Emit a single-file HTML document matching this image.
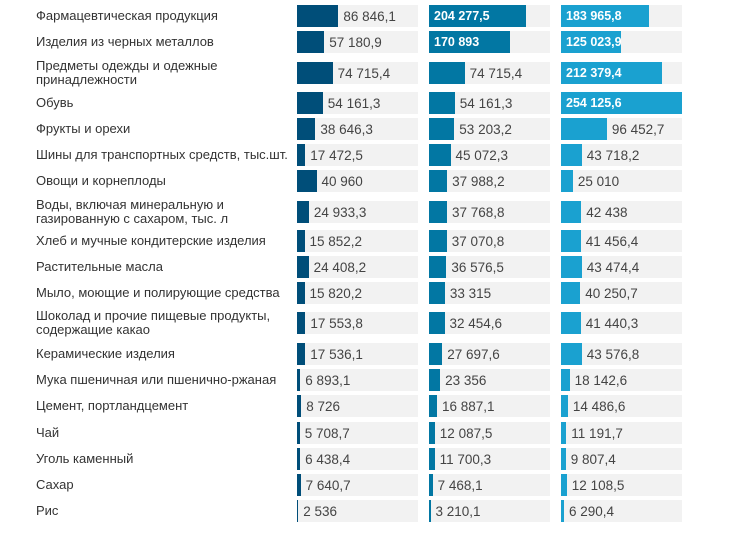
<!DOCTYPE html>
<html><head><meta charset="utf-8"><style>
body{margin:0;width:730px;height:539px;background:#fff;position:relative;overflow:hidden;font-family:"Liberation Sans",Arial,sans-serif;}
.r{position:absolute;left:0;width:730px;height:22px;}
.l{position:absolute;left:36px;top:-4px;height:30px;width:262px;display:flex;align-items:center;font-size:13px;line-height:14px;color:#333;}
.c{position:absolute;top:0;width:121px;height:22px;background:#f2f2f2;display:flex;align-items:center;font-size:13.5px;color:#444;white-space:nowrap;overflow:visible;}
.c i{display:block;height:22px;flex:none;}
.c span{margin-left:5px;}
.c.in span{position:absolute;left:5px;margin:0;color:#fff;font-weight:bold;font-size:12.5px;}
.a{left:297px}.a i{background:#004e79}
.b{left:429px}.b i{background:#0277a3}
.d{left:561px}.d i{background:#1aa1d0}
</style></head><body>
<div class="r" style="top:5px"><div class="l">Фармацевтическая продукция</div><div class="c a"><i style="width:41.4px"></i><span>86 846,1</span></div><div class="c b in"><i style="width:97.3px"></i><span>204 277,5</span></div><div class="c d in"><i style="width:87.6px"></i><span>183 965,8</span></div></div>
<div class="r" style="top:31px"><div class="l">Изделия из черных металлов</div><div class="c a"><i style="width:27.2px"></i><span>57 180,9</span></div><div class="c b in"><i style="width:81.4px"></i><span>170 893</span></div><div class="c d in"><i style="width:59.5px"></i><span>125 023,9</span></div></div>
<div class="r" style="top:62px"><div class="l">Предметы одежды и одежные принадлежности</div><div class="c a"><i style="width:35.6px"></i><span>74 715,4</span></div><div class="c b"><i style="width:35.6px"></i><span>74 715,4</span></div><div class="c d in"><i style="width:101.1px"></i><span>212 379,4</span></div></div>
<div class="r" style="top:92px"><div class="l">Обувь</div><div class="c a"><i style="width:25.8px"></i><span>54 161,3</span></div><div class="c b"><i style="width:25.8px"></i><span>54 161,3</span></div><div class="c d in"><i style="width:121px"></i><span>254 125,6</span></div></div>
<div class="r" style="top:118px"><div class="l">Фрукты и орехи</div><div class="c a"><i style="width:18.4px"></i><span>38 646,3</span></div><div class="c b"><i style="width:25.3px"></i><span>53 203,2</span></div><div class="c d"><i style="width:45.9px"></i><span>96 452,7</span></div></div>
<div class="r" style="top:144px"><div class="l">Шины для транспортных средств, тыс.шт.</div><div class="c a"><i style="width:8.3px"></i><span>17 472,5</span></div><div class="c b"><i style="width:21.5px"></i><span>45 072,3</span></div><div class="c d"><i style="width:20.8px"></i><span>43 718,2</span></div></div>
<div class="r" style="top:170px"><div class="l">Овощи и корнеплоды</div><div class="c a"><i style="width:19.5px"></i><span>40 960</span></div><div class="c b"><i style="width:18.1px"></i><span>37 988,2</span></div><div class="c d"><i style="width:11.9px"></i><span>25 010</span></div></div>
<div class="r" style="top:201px"><div class="l">Воды, включая минеральную и газированную с сахаром, тыс. л</div><div class="c a"><i style="width:11.9px"></i><span>24 933,3</span></div><div class="c b"><i style="width:18px"></i><span>37 768,8</span></div><div class="c d"><i style="width:20.2px"></i><span>42 438</span></div></div>
<div class="r" style="top:230px"><div class="l">Хлеб и мучные кондитерские изделия</div><div class="c a"><i style="width:7.5px"></i><span>15 852,2</span></div><div class="c b"><i style="width:17.7px"></i><span>37 070,8</span></div><div class="c d"><i style="width:19.7px"></i><span>41 456,4</span></div></div>
<div class="r" style="top:256px"><div class="l">Растительные масла</div><div class="c a"><i style="width:11.6px"></i><span>24 408,2</span></div><div class="c b"><i style="width:17.4px"></i><span>36 576,5</span></div><div class="c d"><i style="width:20.7px"></i><span>43 474,4</span></div></div>
<div class="r" style="top:282px"><div class="l">Мыло, моющие и полирующие средства</div><div class="c a"><i style="width:7.5px"></i><span>15 820,2</span></div><div class="c b"><i style="width:15.9px"></i><span>33 315</span></div><div class="c d"><i style="width:19.2px"></i><span>40 250,7</span></div></div>
<div class="r" style="top:312px"><div class="l">Шоколад и прочие пищевые продукты, содержащие какао</div><div class="c a"><i style="width:8.4px"></i><span>17 553,8</span></div><div class="c b"><i style="width:15.5px"></i><span>32 454,6</span></div><div class="c d"><i style="width:19.7px"></i><span>41 440,3</span></div></div>
<div class="r" style="top:343px"><div class="l">Керамические изделия</div><div class="c a"><i style="width:8.3px"></i><span>17 536,1</span></div><div class="c b"><i style="width:13.2px"></i><span>27 697,6</span></div><div class="c d"><i style="width:20.7px"></i><span>43 576,8</span></div></div>
<div class="r" style="top:369px"><div class="l">Мука пшеничная или пшенично-ржаная</div><div class="c a"><i style="width:3.3px"></i><span>6 893,1</span></div><div class="c b"><i style="width:11.1px"></i><span>23 356</span></div><div class="c d"><i style="width:8.6px"></i><span>18 142,6</span></div></div>
<div class="r" style="top:395px"><div class="l">Цемент, портландцемент</div><div class="c a"><i style="width:4.2px"></i><span>8 726</span></div><div class="c b"><i style="width:8px"></i><span>16 887,1</span></div><div class="c d"><i style="width:6.9px"></i><span>14 486,6</span></div></div>
<div class="r" style="top:422px"><div class="l">Чай</div><div class="c a"><i style="width:2.7px"></i><span>5 708,7</span></div><div class="c b"><i style="width:5.8px"></i><span>12 087,5</span></div><div class="c d"><i style="width:5.3px"></i><span>11 191,7</span></div></div>
<div class="r" style="top:448px"><div class="l">Уголь каменный</div><div class="c a"><i style="width:3.1px"></i><span>6 438,4</span></div><div class="c b"><i style="width:5.6px"></i><span>11 700,3</span></div><div class="c d"><i style="width:4.7px"></i><span>9 807,4</span></div></div>
<div class="r" style="top:474px"><div class="l">Сахар</div><div class="c a"><i style="width:3.6px"></i><span>7 640,7</span></div><div class="c b"><i style="width:3.6px"></i><span>7 468,1</span></div><div class="c d"><i style="width:5.8px"></i><span>12 108,5</span></div></div>
<div class="r" style="top:500px"><div class="l">Рис</div><div class="c a"><i style="width:1.2px"></i><span>2 536</span></div><div class="c b"><i style="width:1.5px"></i><span>3 210,1</span></div><div class="c d"><i style="width:3px"></i><span>6 290,4</span></div></div>
</body></html>
